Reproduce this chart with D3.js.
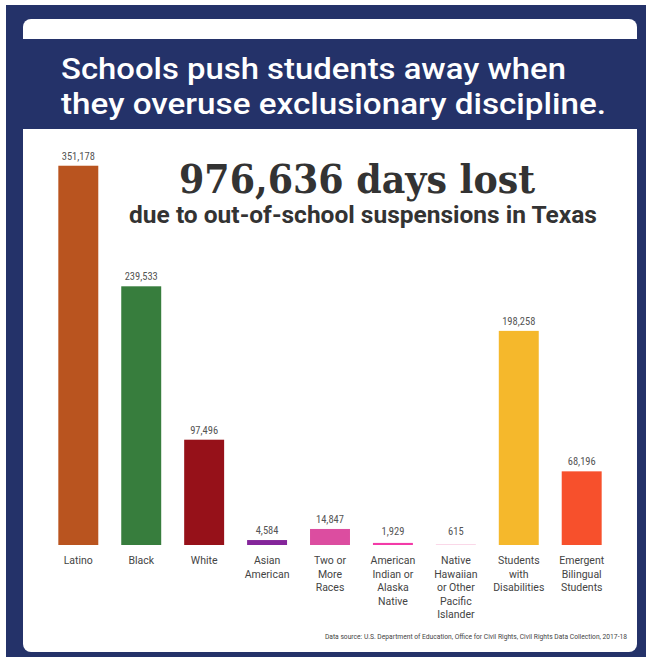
<!DOCTYPE html>
<html>
<head>
<meta charset="utf-8">
<script src="https://cdn.jsdelivr.net/npm/d3@7"></script>
<style>
  body { margin: 0; background: #fff; }
  svg { display: block; }
</style>
</head>
<body>
<svg width="652" height="659"></svg>
<script>
'use strict';

// data
var categories = [
    ['Latino'],
    ['Black'],
    ['White'],
    ['Asian', 'American'],
    ['Two or', 'More', 'Races'],
    ['American', 'Indian or', 'Alaska', 'Native'],
    ['Native', 'Hawaiian', 'or Other', 'Pacific', 'Islander'],
    ['Students', 'with', 'Disabilities'],
    ['Emergent', 'Bilingual', 'Students']
];
var daysLost = [351178, 239533, 97496, 4584, 14847, 1929, 615, 198258, 68196];
var barColors = ['#b9541f', '#377d3d', '#961119', '#84259a', '#dc4da0', '#f33ba8', '#f7c5dd', '#f5b82c', '#f7502c'];

var titleLines = ['Schools push students away when', 'they overuse exclusionary discipline.'];
var titleWidths = [505, 545];
var headline = '976,636 days lost';
var subhead = 'due to out-of-school suspensions in Texas';
var source = 'Data source: U.S. Department of Education, Office for Civil Rights, Civil Rights Data Collection, 2017-18';

var svg = d3.select('svg');
var navy = '#243269';

// frame
svg.append('rect').attr('x', 6).attr('y', 5).attr('width', 640).attr('height', 652).attr('fill', navy);
svg.append('rect').attr('x', 23).attr('y', 19).attr('width', 614).attr('height', 633)
    .attr('rx', 8).attr('fill', '#fff');
svg.append('rect').attr('x', 23).attr('y', 39).attr('width', 614).attr('height', 90).attr('fill', navy);

svg.selectAll('text.title').data(titleLines).enter().append('text')
    .attr('class', 'title')
    .attr('x', 61)
    .attr('y', function (d, i) { return 79 + i * 35; })
    .attr('fill', '#fff')
    .style('font-family', 'Roboto, sans-serif')
    .style('font-weight', 500)
    .style('font-size', '30px')
    .attr('textLength', function (d, i) { return titleWidths[i]; })
    .attr('lengthAdjust', 'spacingAndGlyphs')
    .text(function (d) { return d; });

svg.append('text')
    .attr('x', 357).attr('y', 193)
    .attr('text-anchor', 'middle')
    .attr('fill', '#333')
    .style('font-family', '"DejaVu Serif", serif')
    .style('font-weight', 'bold')
    .style('font-size', '39px')
    .attr('textLength', 356)
    .attr('lengthAdjust', 'spacingAndGlyphs')
    .text(headline);

svg.append('text')
    .attr('x', 363).attr('y', 223)
    .attr('text-anchor', 'middle')
    .attr('fill', '#333')
    .style('font-family', 'Roboto, sans-serif')
    .style('font-weight', 'bold')
    .style('font-size', '24.5px')
    .text(subhead);

// scales
var x = d3.scaleBand()
    .domain(d3.range(daysLost.length))
    .range([47, 613])
    .paddingInner(0.365)
    .paddingOuter(0.18);

var y = d3.scaleLinear()
    .domain([0, 350000])
    .range([545, 167]);

var bars = svg.append('g').selectAll('g').data(daysLost).enter().append('g');

bars.append('rect')
    .attr('x', function (d, i) { return x(i); })
    .attr('width', x.bandwidth())
    .attr('y', function (d) { return y(d); })
    .attr('height', function (d) { return y(0) - y(d); })
    .attr('fill', function (d, i) { return barColors[i]; });

bars.append('text')
    .attr('x', function (d, i) { return x(i) + x.bandwidth() / 2; })
    .attr('y', function (d) { return Math.min(y(d), 541) - 6; })
    .attr('text-anchor', 'middle')
    .attr('fill', '#555')
    .style('font-family', '"Roboto Condensed", Roboto, sans-serif')
    .style('font-size', '10.5px')
    .text(function (d) { return d3.format(',')(d); });

var labels = svg.append('g').selectAll('text').data(categories).enter().append('text')
    .attr('text-anchor', 'middle')
    .attr('fill', '#444')
    .style('font-family', 'Roboto, sans-serif')
    .style('font-size', '10.5px');

labels.selectAll('tspan').data(function (d, i) {
    return d.map(function (s) { return { s: s, i: i }; });
}).enter().append('tspan')
    .attr('x', function (d) { return x(d.i) + x.bandwidth() / 2; })
    .attr('y', function (d, j) { return 564 + j * 13.6; })
    .text(function (d) { return d.s; });

svg.append('text')
    .attr('x', 627).attr('y', 639)
    .attr('text-anchor', 'end')
    .attr('fill', '#444')
    .style('font-family', 'Roboto, sans-serif')
    .style('font-size', '6.7px')
    .text(source);
</script>
</body>
</html>
